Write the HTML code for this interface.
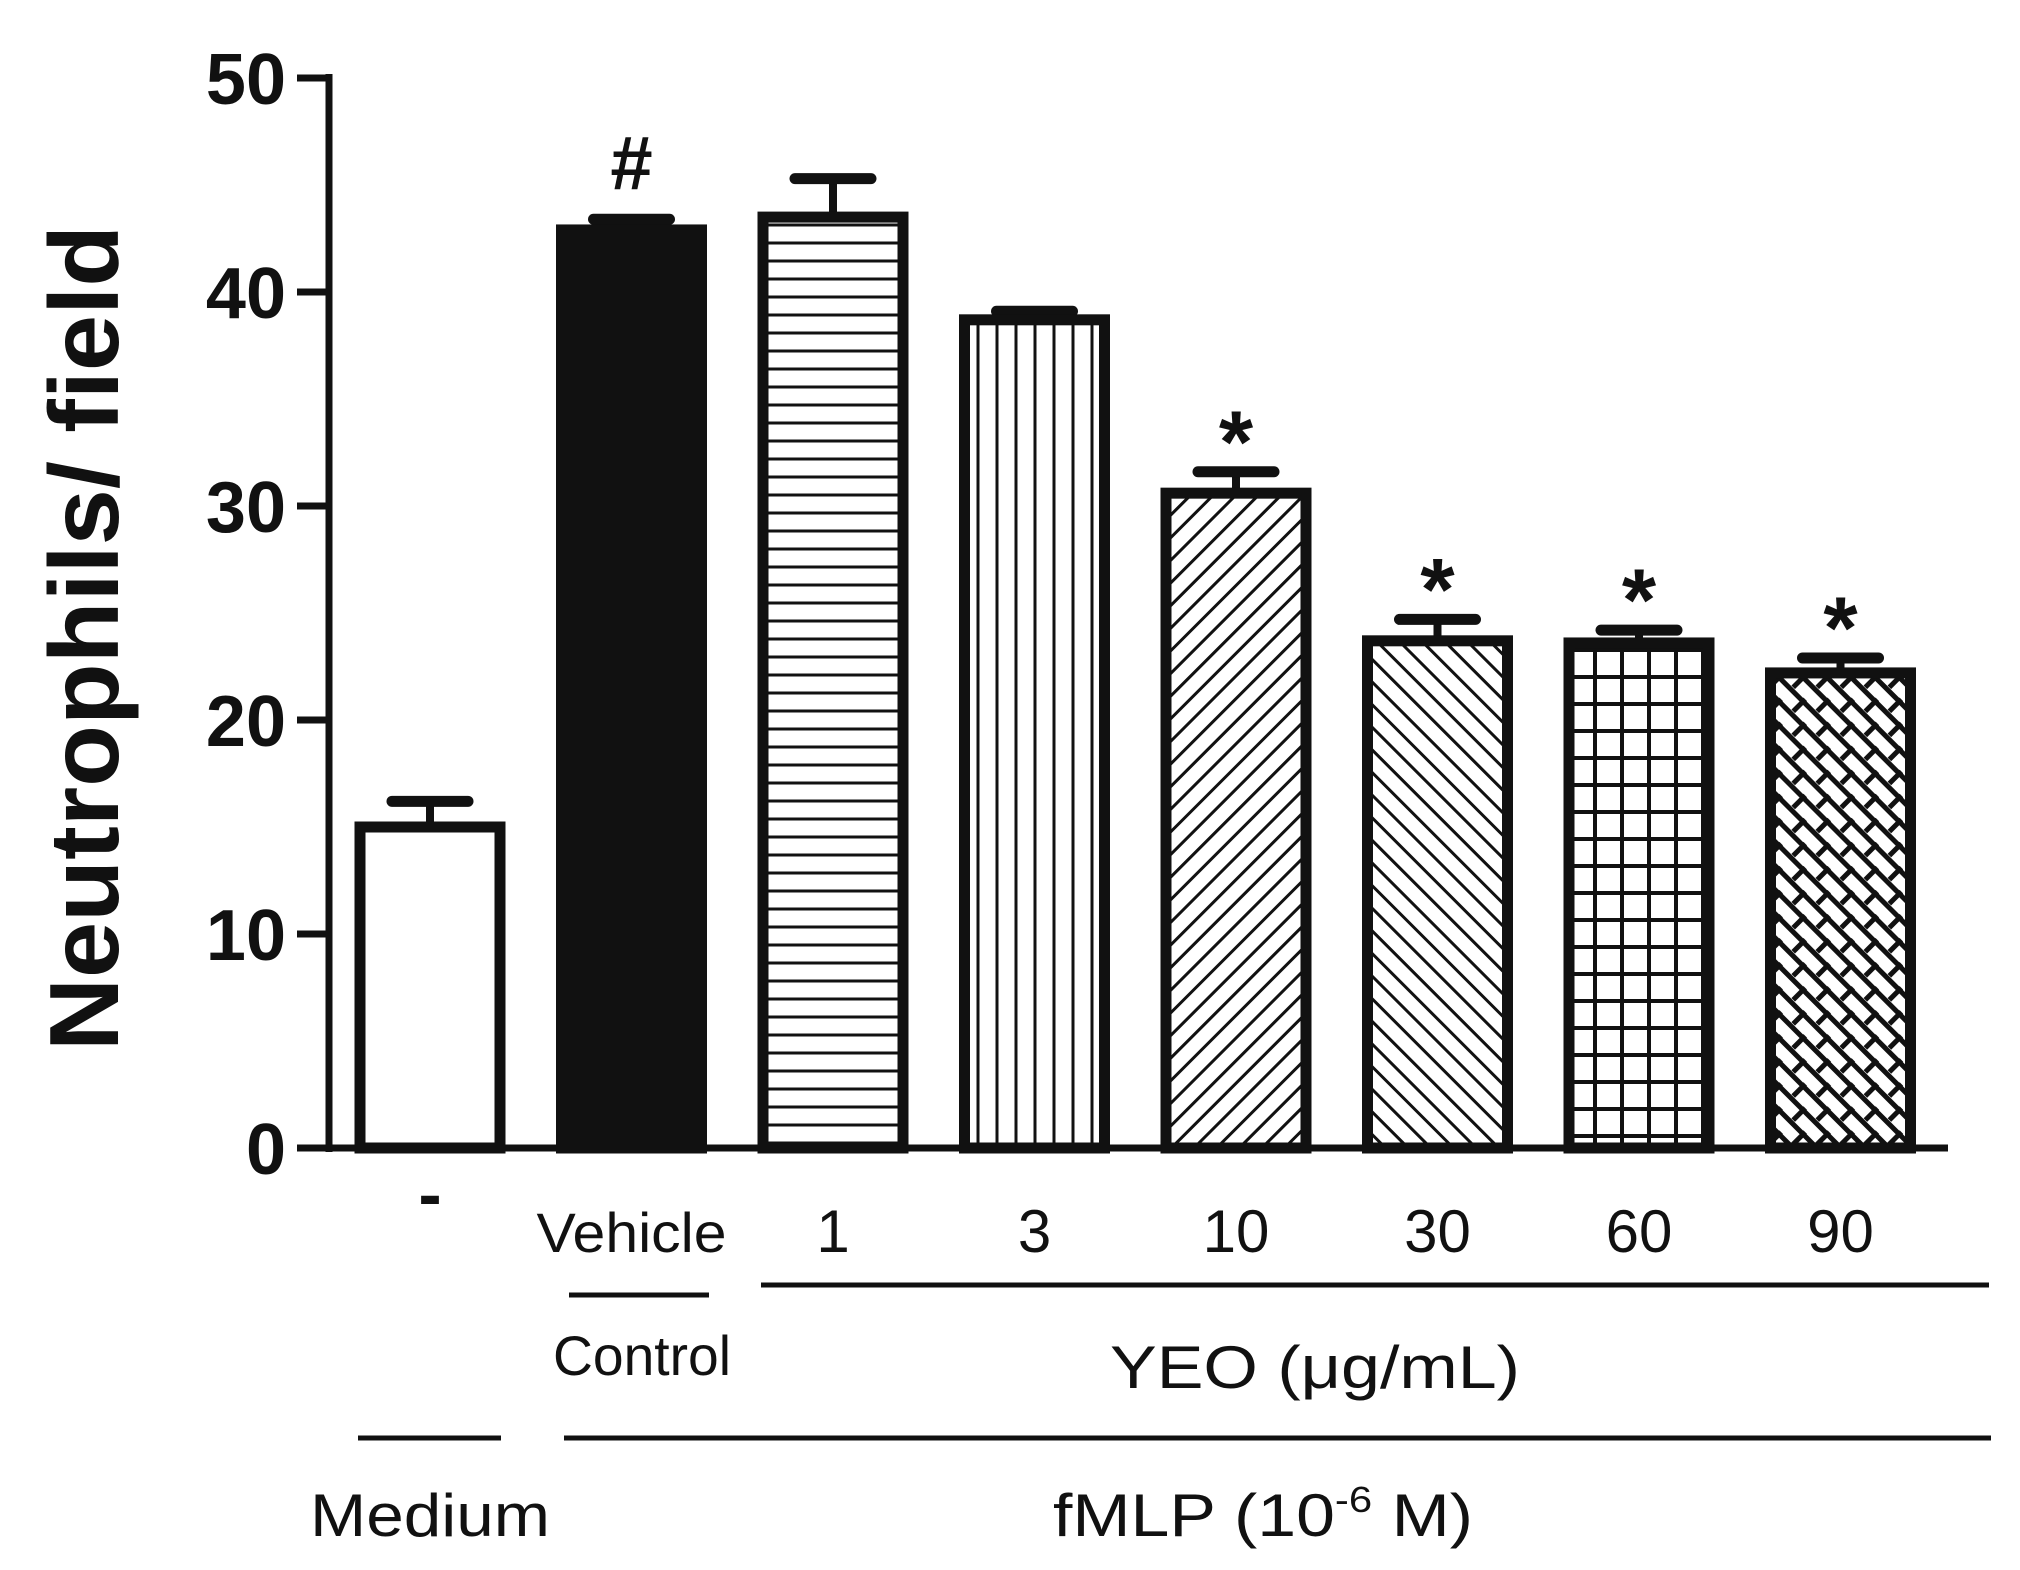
<!DOCTYPE html>
<html><head><meta charset="utf-8"><style>
html,body{margin:0;padding:0;background:#fff}
svg{display:block}
text{font-family:"Liberation Sans",Arial,sans-serif;fill:#111}
</style></head><body>
<svg id="chart" width="2020" height="1570" viewBox="0 0 2020 1570" xmlns="http://www.w3.org/2000/svg">
<defs>
<pattern id="p-h" patternUnits="userSpaceOnUse" width="20" height="18"><rect width="20" height="18" fill="#fff"/><line x1="0" y1="9" x2="20" y2="9" stroke="#111" stroke-width="3"/></pattern>
<pattern id="p-v" patternUnits="userSpaceOnUse" width="19" height="20"><rect width="19" height="20" fill="#fff"/><line x1="9" y1="0" x2="9" y2="20" stroke="#111" stroke-width="3"/></pattern>
<pattern id="p-d1" patternUnits="userSpaceOnUse" width="16" height="16" patternTransform="rotate(45)"><rect width="16" height="16" fill="#fff"/><line x1="8" y1="0" x2="8" y2="16" stroke="#111" stroke-width="3"/></pattern>
<pattern id="p-d2" patternUnits="userSpaceOnUse" width="16" height="16" patternTransform="rotate(-45)"><rect width="16" height="16" fill="#fff"/><line x1="8" y1="0" x2="8" y2="16" stroke="#111" stroke-width="3"/></pattern>
<pattern id="p-g" patternUnits="userSpaceOnUse" width="27" height="27"><rect width="27" height="27" fill="#fff"/><line x1="0" y1="2" x2="27" y2="2" stroke="#111" stroke-width="4"/><line x1="2" y1="0" x2="2" y2="27" stroke="#111" stroke-width="4"/></pattern>
<pattern id="p-x" patternUnits="userSpaceOnUse" width="34" height="34" patternTransform="rotate(45)"><rect width="34" height="34" fill="#fff"/><line x1="0" y1="3" x2="34" y2="3" stroke="#111" stroke-width="5"/><line x1="3" y1="0" x2="3" y2="17" stroke="#111" stroke-width="5"/><line x1="20" y1="17" x2="20" y2="34" stroke="#111" stroke-width="5"/><line x1="0" y1="20" x2="34" y2="20" stroke="#111" stroke-width="5"/></pattern>
</defs>
<g id="bars"></g>
<g id="axes"></g>
<g>
<line x1="569" y1="1295" x2="709" y2="1295" stroke="#111" stroke-width="5"/>
<line x1="761" y1="1285" x2="1989" y2="1285" stroke="#111" stroke-width="5"/>
<line x1="358" y1="1438" x2="501" y2="1438" stroke="#111" stroke-width="5"/>
<line x1="564" y1="1438" x2="1991" y2="1438" stroke="#111" stroke-width="5"/>
<text x="642" y="1375" font-size="56" text-anchor="middle" textLength="178" lengthAdjust="spacingAndGlyphs">Control</text>
<text x="1315" y="1388" font-size="60" text-anchor="middle" textLength="410" lengthAdjust="spacingAndGlyphs">YEO (μg/mL)</text>
<text x="430" y="1536" font-size="60" text-anchor="middle" textLength="240" lengthAdjust="spacingAndGlyphs">Medium</text>
<text x="1263" y="1536" font-size="60" text-anchor="middle" textLength="420" lengthAdjust="spacingAndGlyphs">fMLP (10<tspan dy="-24" font-size="36">-6</tspan><tspan dy="24"> M)</tspan></text>
</g>
</svg>
<script>
const categories = ["-", "Vehicle", "1", "3", "10", "30", "60", "90"];
const values = [15.0, 42.9, 43.5, 38.7, 30.6, 23.7, 23.6, 22.2];
const errors = [1.2, 0.5, 1.8, 0.4, 1.0, 1.0, 0.6, 0.7];
const marks = ["", "#", "", "", "*", "*", "*", "*"];
const fills = ["#fff", "#111", "url(#p-h)", "url(#p-v)", "url(#p-d1)", "url(#p-d2)", "url(#p-g)", "url(#p-x)"];
const yTicks = [0, 10, 20, 30, 40, 50];

const NS = "http://www.w3.org/2000/svg";
const y0 = 1148, yTop = 78, yMax = 50;
function yScale(v){ return y0 - (v / yMax) * (y0 - yTop); }
function xScale(i){ return 430 + i * 201.5; }
const bw = 140;
function mk(tag, attrs, parent){ const e = document.createElementNS(NS, tag); for (const k in attrs) e.setAttribute(k, attrs[k]); parent.appendChild(e); return e; }

const barsG = document.getElementById("bars");
const axesG = document.getElementById("axes");
categories.forEach((c, i) => {
  const cx = xScale(i), top = yScale(values[i]), et = yScale(values[i] + errors[i]);
  const g = mk("g", {}, barsG);
  
  
  const eb = mk("line", {x1: cx, y1: top, x2: cx, y2: et, stroke: "#111", "stroke-width": 8}, g);
  
  
  const cap = mk("line", {x1: cx - 38, y1: et, x2: cx + 38, y2: et, stroke: "#111", "stroke-width": 11, "stroke-linecap": "round"}, g);
  
  
  const r = mk("rect", {x: cx - bw/2, y: top, width: bw, height: y0 - top, fill: fills[i], stroke: "#111", "stroke-width": 11}, g);
  
  
  if (marks[i]) {
    const t = mk("text", {x: cx, y: et - (marks[i] === "#" ? 30 : 0), "font-size": marks[i] === "#" ? 76 : 88, "font-weight": "bold", "text-anchor": "middle"}, g);
    t.textContent = marks[i];
    
    
  }
  const attrs = {x: cx, y: c === "-" ? 1218 : 1252, "font-size": c === "-" ? 70 : (i === 1 ? 56 : 60), "text-anchor": "middle", "font-weight": c === "-" ? "bold" : "normal"};
  if (i === 1) { attrs.textLength = 190; attrs.lengthAdjust = "spacingAndGlyphs"; }
  const lbl = mk("text", attrs, axesG);
  lbl.textContent = c;
  
  
});

const ya = mk("line", {x1: 329, y1: yTop - 4, x2: 329, y2: y0 + 4, stroke: "#111", "stroke-width": 7}, axesG);


const xa = mk("line", {x1: 297, y1: y0, x2: 1948, y2: y0, stroke: "#111", "stroke-width": 7}, axesG);


yTicks.forEach(v => {
  const y = yScale(v);
  const tk = mk("line", {x1: 297, y1: y, x2: 329, y2: y, stroke: "#111", "stroke-width": 7}, axesG);
  
  
  const t = mk("text", {x: 286, y: y + 26, "font-size": 72, "font-weight": "bold", "text-anchor": "end"}, axesG);
  t.textContent = v;
  
  
});
const yt = mk("text", {x: 0, y: 0, "font-size": 98, "font-weight": "bold", "text-anchor": "middle", textLength: 826, lengthAdjust: "spacingAndGlyphs", transform: "translate(118,638) rotate(-90)"}, axesG);
yt.textContent = "Neutrophils/ field";


</script>
</body></html>
